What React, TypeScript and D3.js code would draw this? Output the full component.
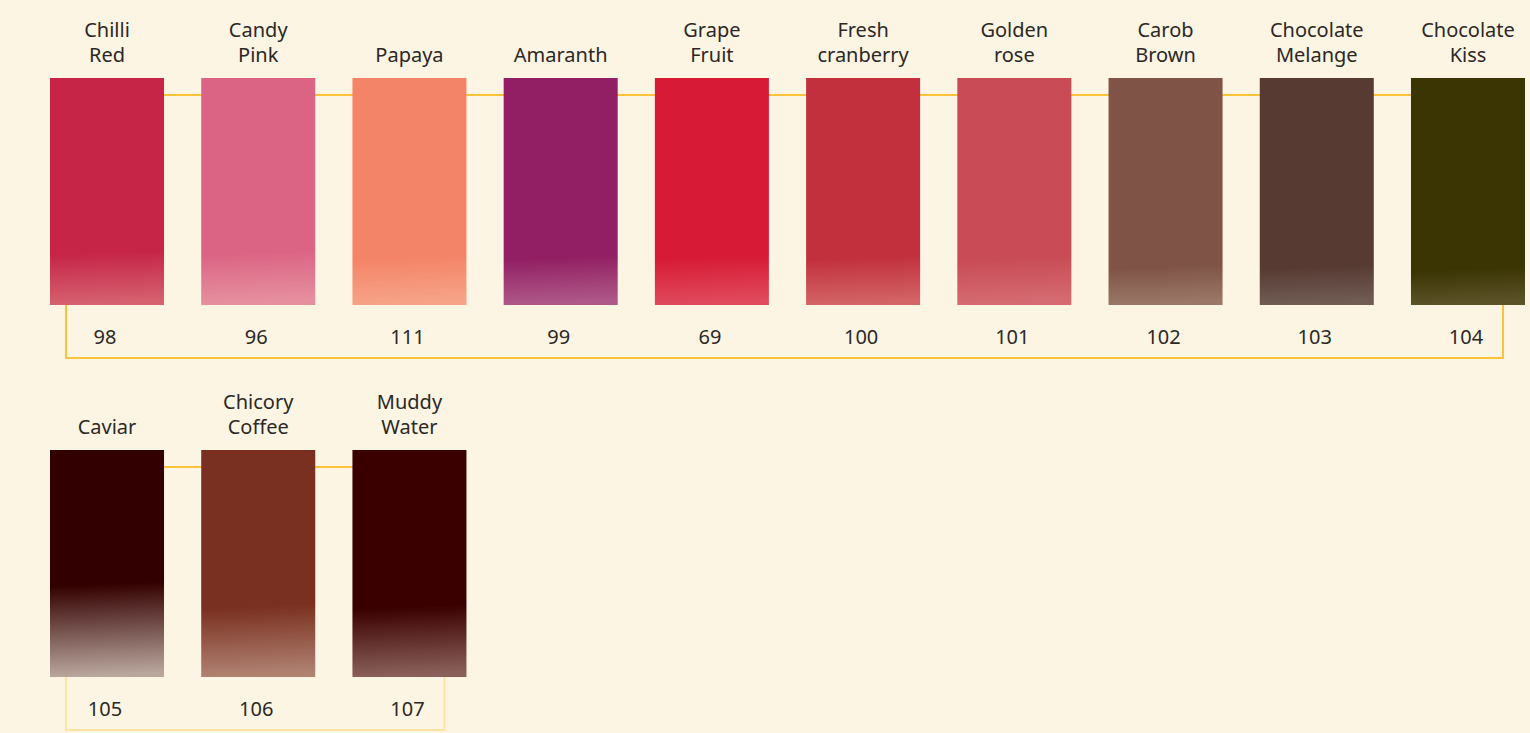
import React from 'react';
import * as d3 from 'd3';

const shadeNames = [
  ['Chilli', 'Red'], ['Candy', 'Pink'], ['Papaya'], ['Amaranth'], ['Grape', 'Fruit'],
  ['Fresh', 'cranberry'], ['Golden', 'rose'], ['Carob', 'Brown'], ['Chocolate', 'Melange'],
  ['Chocolate', 'Kiss'], ['Caviar'], ['Chicory', 'Coffee'], ['Muddy', 'Water'],
];
const shadeCodes = [98, 96, 111, 99, 69, 100, 101, 102, 103, 104, 105, 106, 107];
const topColors = [
  '#c62548', '#db6484', '#f48468', '#921f63', '#d71b36', '#c2303d', '#c84b55',
  '#7f5447', '#573b33', '#3b3403', '#330000', '#7a3020', '#3a0000',
];
const bottomColors = [
  '#d5616f', '#e6909f', '#f6a387', '#ae5888', '#e04a5c', '#d26466', '#d56b72',
  '#9a7767', '#705c53', '#5b5228', '#b9a69c', '#b08272', '#8a605a',
];
const fadeStart = [0.78, 0.78, 0.8, 0.8, 0.8, 0.8, 0.8, 0.84, 0.84, 0.85, 0.6, 0.7, 0.7];

const W = 1530;
const H = 733;
const PER_ROW = 10;
const SWATCH_H = 227;
const ROW_TOP = 78;
const ROW_STEP = 372;
const FONT = "'Noto Sans', Lato, sans-serif";

const App: React.FC = () => {
  const cols = d3.range(PER_ROW);
  const x = d3.scaleBand<number>().domain(cols).range([50, 1525]).paddingInner(0.246).paddingOuter(0);
  const bw = x.bandwidth();

  const items = shadeCodes.map((code, i) => ({
    code,
    name: shadeNames[i],
    top: topColors[i],
    bottom: bottomColors[i],
    fade: fadeStart[i],
    row: Math.floor(i / PER_ROW),
    col: i % PER_ROW,
    i,
  }));
  const rows = d3.groups(items, d => d.row);
  const bracketColors = ['#fbc23a', '#fde3a0'];

  return (
    <div style={{ position: 'fixed', left: 0, top: 0 }}>
      <svg width={W} height={H} style={{ display: 'block' }}>
        <defs>
          {items.map(d => (
            <linearGradient key={d.i} id={`fade-${d.i}`} x1="0" y1="0" x2="0.02" y2="1">
              <stop offset="0" stopColor={d.top} />
              <stop offset={d.fade} stopColor={d.top} />
              <stop offset="1" stopColor={d.bottom} />
            </linearGradient>
          ))}
        </defs>
        <rect width={W} height={H} fill="#fdf5e3" />
        {rows.map(([r, list]) => {
          const y0 = ROW_TOP + r * ROW_STEP;
          const first = list[0];
          const last = list[list.length - 1];
          const left = (x(first.col) || 0) + 16;
          const right = (x(last.col) || 0) + bw - 22;
          const yb = y0 + SWATCH_H + 53;
          return (
            <g key={r}>
              <line x1={(x(first.col) || 0) + bw / 2} x2={(x(last.col) || 0) + bw / 2}
                y1={y0 + 17} y2={y0 + 17} stroke="#fbc23a" strokeWidth={2} />
              <path d={`M${left},${y0 + SWATCH_H}V${yb}H${right}V${y0 + SWATCH_H}`}
                fill="none" stroke={bracketColors[r]} strokeWidth={2} />
              {list.map(d => {
                const cx = (x(d.col) || 0) + bw / 2;
                return (
                  <g key={d.i}>
                    <rect x={x(d.col)} y={y0} width={bw} height={SWATCH_H} fill={`url(#fade-${d.i})`} />
                    {d.name.map((t, k) => (
                      <text key={k} x={cx} y={y0 - 16 - (d.name.length - 1 - k) * 25}
                        textAnchor="middle" fontFamily={FONT} fontSize={20} fill="#2b2826">
                        {t}
                      </text>
                    ))}
                    <text x={cx - 2} y={y0 + SWATCH_H + 39} textAnchor="middle"
                      fontFamily={FONT} fontSize={20} fill="#2b2826">
                      {d.code}
                    </text>
                  </g>
                );
              })}
            </g>
          );
        })}
      </svg>
    </div>
  );
};

export default App;
